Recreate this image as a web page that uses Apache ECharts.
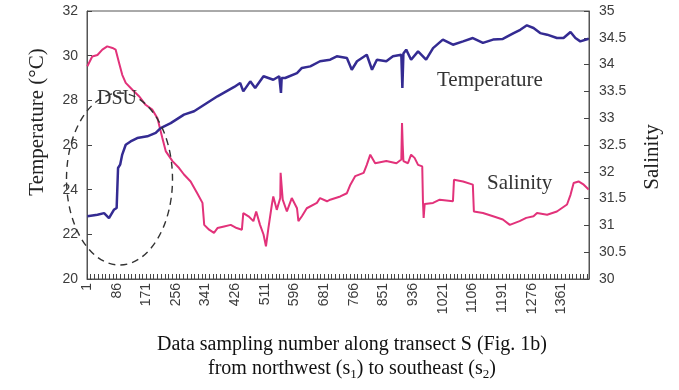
<!DOCTYPE html>
<html>
<head>
<meta charset="utf-8">
<script src="https://cdn.jsdelivr.net/npm/echarts@6/dist/echarts.min.js"></script>
<style>
  html, body { margin: 0; padding: 0; background: #fff; }
  #chart { width: 679px; height: 390px; }
</style>
</head>
<body>
<div id="chart"></div>
<script>
// Sample number along the transect and the tick labels shown under the axis
const sampleTicks = [1, 86, 171, 256, 341, 426, 511, 596, 681, 766, 851, 936, 1021, 1106, 1191, 1276, 1361];
const tempTicks = [20, 22, 24, 26, 28, 30, 32];
const salinityTicks = [30, 30.5, 31, 31.5, 32, 32.5, 33, 33.5, 34, 34.5, 35];

// Temperature (°C) read along the transect: [sample number, value]
const temperature = [
  [2, 22.81], [31, 22.88], [50, 22.95], [64, 22.73], [78, 23.1], [86, 23.18],
  [90, 24.97], [96, 25.12], [102, 25.57], [112, 26.01], [126, 26.16], [145, 26.31],
  [174, 26.39], [198, 26.54], [212, 26.76], [241, 26.98], [279, 27.36], [308, 27.51],
  [337, 27.8], [375, 28.18], [423, 28.6], [440, 28.78], [449, 28.4], [469, 28.85],
  [483, 28.55], [507, 29.08], [535, 28.92], [552, 29.08], [555, 29.05], [557, 28.33],
  [559, 29.0], [569, 29.0], [603, 29.22], [617, 29.45], [641, 29.52], [669, 29.75],
  [698, 29.82], [717, 29.97], [746, 29.9], [760, 29.37], [775, 29.75], [803, 30.04],
  [818, 29.37], [832, 29.82], [859, 29.75], [878, 29.97], [902, 30.04], [905, 28.55],
  [908, 30.1], [916, 30.27], [930, 29.82], [950, 30.19], [973, 29.82], [993, 30.34],
  [1021, 30.72], [1050, 30.49], [1079, 30.64], [1107, 30.79], [1136, 30.57], [1165, 30.72],
  [1193, 30.75], [1224, 31.01], [1243, 31.16], [1262, 31.36], [1281, 31.24], [1300, 31.01],
  [1320, 30.94], [1348, 30.79], [1367, 30.79], [1387, 31.06], [1401, 30.79], [1415, 30.64],
  [1439, 30.76]
];

// Salinity read along the transect: [sample number, value]
const salinity = [
  [2, 33.97], [16, 34.15], [31, 34.18], [45, 34.28], [59, 34.34], [74, 34.31],
  [83, 34.28], [93, 34.03], [102, 33.81], [112, 33.66], [131, 33.53], [150, 33.41],
  [169, 33.25], [188, 33.16], [203, 33.0], [217, 32.63], [227, 32.38], [246, 32.2],
  [265, 32.07], [279, 31.95], [298, 31.82], [317, 31.6], [332, 31.42], [337, 31.01],
  [351, 30.92], [365, 30.86], [375, 30.95], [394, 30.98], [413, 31.01], [430, 30.95],
  [445, 30.92], [449, 31.23], [464, 31.17], [478, 31.08], [486, 31.26], [497, 31.01],
  [507, 30.83], [514, 30.61], [521, 30.95], [531, 31.39], [535, 31.54], [545, 31.29],
  [555, 31.51], [556, 31.98], [559, 31.98], [562, 31.48], [574, 31.26], [588, 31.51],
  [603, 31.32], [607, 31.08], [617, 31.17], [631, 31.32], [660, 31.42], [669, 31.51],
  [689, 31.45], [698, 31.48], [727, 31.54], [746, 31.6], [756, 31.76], [770, 31.92],
  [794, 31.98], [803, 32.13], [813, 32.32], [827, 32.16], [859, 32.2], [888, 32.16],
  [902, 32.23], [904, 32.91], [906, 32.5], [908, 32.2], [921, 32.16], [930, 32.32],
  [940, 32.26], [950, 32.13], [962, 32.1], [964, 31.45], [966, 31.14], [969, 31.4],
  [993, 31.42], [1012, 31.48], [1050, 31.45], [1053, 31.85], [1079, 31.82], [1107, 31.76],
  [1110, 31.26], [1136, 31.23], [1165, 31.17], [1193, 31.11], [1213, 31.01], [1241, 31.08],
  [1260, 31.14], [1281, 31.17], [1291, 31.23], [1320, 31.2], [1348, 31.26], [1377, 31.39],
  [1387, 31.57], [1396, 31.79], [1410, 31.82], [1425, 31.76], [1439, 31.67]
];

// Small tick marks: eight per labelled step along the bottom axis
const minorTicks = [];
for (let v = 1; v <= 1440; v += 85 / 8) minorTicks.push(v);

const serif = '"Liberation Serif", "Times New Roman", serif';
const sans = '"Liberation Sans", Arial, sans-serif';
const frame = '#555';
const tickColor = '#444';
const labelColor = '#3c3c3c';

const chart = echarts.init(document.getElementById('chart'), null, { renderer: 'canvas' });

chart.setOption({
  animation: false,
  backgroundColor: '#fff',
  grid: {
    left: 87, right: 90, top: 11, bottom: 111,
    show: true, borderColor: frame, borderWidth: 1, backgroundColor: 'transparent'
  },
  xAxis: {
    type: 'value',
    min: 1, max: 1440,
    axisLine: { show: true, lineStyle: { color: frame } },
    axisTick: { show: true, inside: true, length: 5, customValues: minorTicks, lineStyle: { color: tickColor } },
    axisLabel: {
      customValues: sampleTicks, rotate: 90, margin: 4,
      formatter: (v) => String(Math.round(v)),
      fontFamily: sans, fontSize: 14, color: labelColor
    },
    splitLine: { show: false }
  },
  yAxis: [
    {
      type: 'value', min: tempTicks[0], max: tempTicks[tempTicks.length - 1], interval: 2,
      axisLine: { show: true, lineStyle: { color: frame } },
      axisTick: { show: true, inside: true, length: 5, lineStyle: { color: tickColor } },
      axisLabel: { margin: 9, fontFamily: sans, fontSize: 14, color: labelColor },
      splitLine: { show: false }
    },
    {
      type: 'value', min: salinityTicks[0], max: salinityTicks[salinityTicks.length - 1], interval: 0.5,
      position: 'right',
      axisLine: { show: true, lineStyle: { color: frame } },
      axisTick: { show: true, inside: true, length: 5, lineStyle: { color: tickColor } },
      axisLabel: { margin: 10, fontFamily: sans, fontSize: 14, color: labelColor },
      splitLine: { show: false }
    }
  ],
  series: [
    {
      name: 'Temperature', type: 'line', yAxisIndex: 0, data: temperature,
      showSymbol: false, symbol: 'none',
      lineStyle: { color: '#342b92', width: 2.5 }, z: 3
    },
    {
      name: 'Salinity', type: 'line', yAxisIndex: 1, data: salinity,
      showSymbol: false, symbol: 'none',
      lineStyle: { color: '#e2327a', width: 2 }, z: 2
    }
  ],
  graphic: [
    // dashed outline around the low-salinity, cool-water segment
    {
      type: 'ellipse',
      shape: { cx: 119.5, cy: 179, rx: 53, ry: 86 },
      style: { fill: 'none', stroke: '#333', lineWidth: 1.4, lineDash: [7, 5] },
      z: 10
    },
    {
      type: 'text', x: 97, y: 99,
      style: { text: 'DSU', font: '20px ' + serif, fill: '#333', textVerticalAlign: 'middle' },
      z: 11
    },
    {
      type: 'text', x: 437, y: 80,
      style: { text: 'Temperature', font: '21px ' + serif, fill: '#333', textVerticalAlign: 'middle' },
      z: 11
    },
    {
      type: 'text', x: 487, y: 183,
      style: { text: 'Salinity', font: '21px ' + serif, fill: '#333', textVerticalAlign: 'middle' },
      z: 11
    },
    // axis titles
    {
      type: 'text', x: 37, y: 122, rotation: Math.PI / 2,
      style: { text: 'Temperature (°C)', font: '21px ' + serif, fill: '#222', align: 'center', verticalAlign: 'middle' },
      z: 11
    },
    {
      type: 'text', x: 652, y: 157, rotation: Math.PI / 2,
      style: { text: 'Salinity', font: '21px ' + serif, fill: '#222', align: 'center', verticalAlign: 'middle' },
      z: 11
    },
    {
      type: 'text', x: 352, y: 333,
      style: {
        text: 'Data sampling number along transect S (Fig. 1b)\nfrom northwest (s{sub|1}) to southeast (s{sub|2})',
        font: '20px ' + serif, fill: '#111', align: 'center', lineHeight: 24,
        rich: {
          sub: { fontFamily: serif, fontSize: 13, fill: '#111', verticalAlign: 'bottom', lineHeight: 24 }
        }
      },
      z: 11
    }
  ]
});
</script>
</body>
</html>
